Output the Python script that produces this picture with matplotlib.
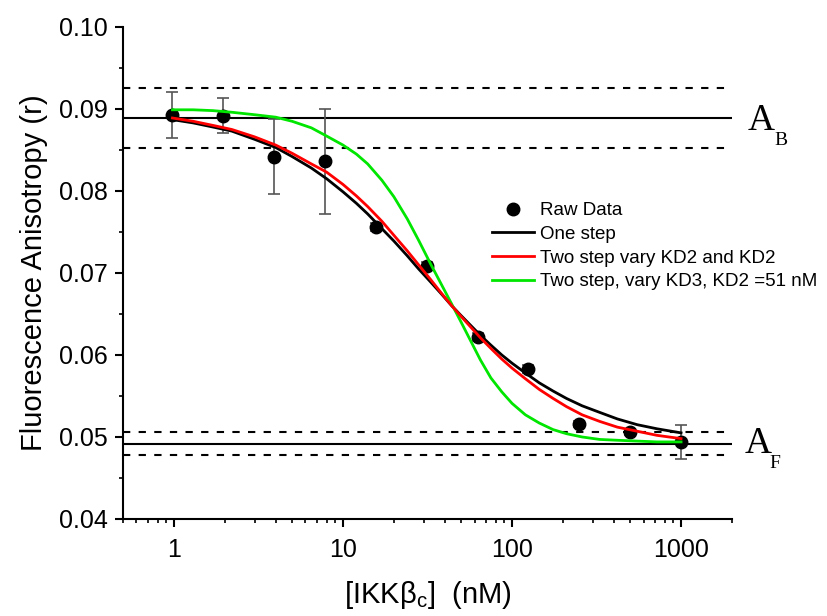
import matplotlib
matplotlib.use("Agg")
import matplotlib.pyplot as plt
from matplotlib.ticker import FixedLocator, MultipleLocator, LogLocator, NullFormatter, FuncFormatter
import matplotlib.transforms as mtransforms

plt.rcParams['font.family'] = ['Liberation Sans', 'DejaVu Sans']

# Raw data: concentration (nM), anisotropy, error
conc = [0.98, 1.95, 3.9, 7.8, 15.6, 31.25, 62.5, 125, 250, 500, 1000]
aniso = [0.0893, 0.0892, 0.0842, 0.0836, 0.0756, 0.0709, 0.0622, 0.0583, 0.0516, 0.0506, 0.0494]
aniso_err = [0.0028, 0.0021, 0.0046, 0.0064, 0.0005, 0.0004, 0.0005, 0.0005, 0.0004, 0.0003, 0.0021]

# Fitted curves
fit_x = [0.98, 1.3, 1.7, 2.2, 3, 4, 5, 6.5, 8, 10, 12, 14, 17, 20, 24, 28, 33, 38, 44, 50,
         57, 65, 75, 87, 100, 120, 145, 175, 210, 260, 330, 420, 550, 720, 1000]
one_step = [0.0887, 0.0883, 0.0878, 0.0873, 0.0863, 0.0853, 0.0842, 0.0828, 0.0815, 0.0799,
            0.0785, 0.0772, 0.0754, 0.0739, 0.0721, 0.0705, 0.0689, 0.0675, 0.0660, 0.0648,
            0.0636, 0.0624, 0.0612, 0.0600, 0.0590, 0.0578, 0.0566, 0.0556, 0.0547, 0.0538,
            0.0530, 0.0522, 0.0515, 0.0510, 0.0505]
two_step_a = [0.0889, 0.0885, 0.0880, 0.0875, 0.0866, 0.0856, 0.0846, 0.0833, 0.0823, 0.0808,
              0.0794, 0.0781, 0.0763, 0.0746, 0.0727, 0.0710, 0.0692, 0.0676, 0.0660, 0.0647,
              0.0634, 0.0621, 0.0608, 0.0595, 0.0584, 0.0571, 0.0558, 0.0547, 0.0537, 0.0527,
              0.0519, 0.0512, 0.0507, 0.0502, 0.0498]
two_step_b = [0.0899, 0.0899, 0.0898, 0.0896, 0.0893, 0.0890, 0.0885, 0.0877, 0.0867, 0.0856,
              0.0845, 0.0833, 0.0813, 0.0793, 0.0766, 0.0740, 0.0711, 0.0687, 0.0662, 0.0640,
              0.0617, 0.0594, 0.0572, 0.0555, 0.0541, 0.0527, 0.0517, 0.0509, 0.0504, 0.0500,
              0.0497, 0.0496, 0.0495, 0.0494, 0.0494]

# Bound / free anisotropy limits (value, lower, upper)
a_bound = [0.0889, 0.0852, 0.0926]
a_free = [0.0492, 0.0478, 0.0506]

fig = plt.figure(figsize=(8.28, 6.16), dpi=100)
ax = fig.add_axes([0.1486, 0.1575, 0.7354, 0.7987])

# limit lines
for lim in (a_bound, a_free):
    ax.axhline(lim[0], color="black", lw=1.5, zorder=1)
    ax.axhline(lim[1], color="black", lw=1.5, ls=(0, (3.5, 4)), zorder=1)
    ax.axhline(lim[2], color="black", lw=1.5, ls=(0, (3.5, 4)), zorder=1)

ax.errorbar(conc, aniso, yerr=aniso_err, fmt="none", ecolor="#555555", elinewidth=1.2,
            capsize=4.5, capthick=1.2, zorder=2)
ax.plot(conc, aniso, "o", color="black", ms=9, zorder=3, label="Raw Data")
ax.plot(fit_x, one_step, color="black", lw=2, zorder=4, label="One step")
ax.plot(fit_x, two_step_a, color="#ff0000", lw=2, zorder=5, label="Two step vary KD2 and KD2")
ax.plot(fit_x, two_step_b, color="#00e600", lw=2, zorder=4, label="Two step, vary KD3, KD2 =51 nM")

ax.set_xscale("log")
ax.set_xlim(0.5, 2000)
ax.set_ylim(0.04, 0.10)

ax.xaxis.set_major_locator(FixedLocator([1, 10, 100, 1000]))
ax.xaxis.set_major_formatter(FuncFormatter(lambda v, p: "%d" % v))
ax.xaxis.set_minor_locator(LogLocator(base=10, subs=[2, 3, 4, 5, 6, 7, 8, 9], numticks=20))
ax.xaxis.set_minor_formatter(NullFormatter())
ax.yaxis.set_major_locator(MultipleLocator(0.01))
ax.yaxis.set_minor_locator(MultipleLocator(0.005))
ax.yaxis.set_major_formatter(FuncFormatter(lambda v, p: "%.2f" % v))

for s in ["top", "right"]:
    ax.spines[s].set_visible(False)
for s in ["left", "bottom"]:
    ax.spines[s].set_linewidth(1.5)

ax.tick_params(which="major", direction="out", length=6, width=1.5)
ax.tick_params(which="minor", direction="out", length=3, width=1.2)
ax.tick_params(axis="y", which="major", labelsize=18, pad=5)
ax.tick_params(axis="x", which="major", labelsize=18, pad=8)

ax.set_xlabel(r"[IKK$\mathregular{\beta_c}$]  (nM)", fontsize=21, labelpad=12)
ax.set_ylabel("Fluorescence Anisotropy (r)", fontsize=21, labelpad=8)

# A_B / A_F labels to the right of the axes
trans = mtransforms.blended_transform_factory(ax.transAxes, ax.transData)
ax.text(1.025, a_bound[0] - 0.00146, "A", transform=trans, fontsize=27, family="Liberation Serif",
        va="baseline", clip_on=False)
ax.text(1.069, a_bound[0] - 0.0033, "B", transform=trans, fontsize=14, family="Liberation Serif",
        va="baseline", clip_on=False)
ax.text(1.021, a_free[0] - 0.0011, "A", transform=trans, fontsize=27, family="Liberation Serif",
        va="baseline", clip_on=False)
ax.text(1.062, a_free[0] - 0.0030, "F", transform=trans, fontsize=14, family="Liberation Serif",
        va="baseline", clip_on=False)

ax.legend(loc="upper left", bbox_to_anchor=(0.606, 0.644), frameon=False, fontsize=13.5,
          borderpad=0, borderaxespad=0, handlelength=2.24, handletextpad=0.32, labelspacing=0.35)

fig.savefig("out.png", dpi=100)
